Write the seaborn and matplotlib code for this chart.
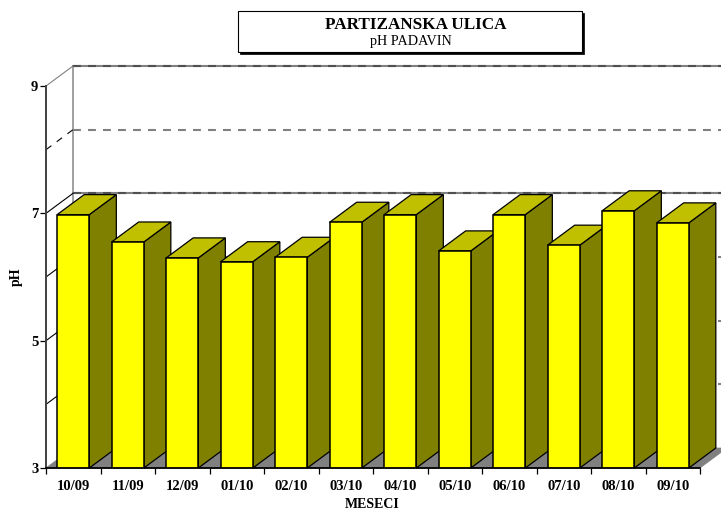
import matplotlib
matplotlib.use("Agg")
import matplotlib.pyplot as plt
from matplotlib.patches import Polygon, Rectangle
import pandas as pd
import seaborn as sns

months = ['10/09', '11/09', '12/09', '01/10', '02/10', '03/10',
          '04/10', '05/10', '06/10', '07/10', '08/10', '09/10']
ph_values = [6.98, 6.55, 6.30, 6.24, 6.31, 6.86, 6.98, 6.41, 6.98, 6.50, 7.04, 6.85]
major_ticks = [3, 5, 7, 9]
wall_levels = [4, 5, 6, 7, 8, 9]

W, H = 721, 512
# depth of the fake 3D box, in data units
DX = 27 / 54.5
DY = 20 / 63.67
BAR_W = 0.59

sns.set_style("white")
plt.rcParams['font.family'] = ['Liberation Serif', 'DejaVu Serif']
plt.rcParams['text.color'] = 'black'
plt.rcParams['xtick.color'] = 'black'
plt.rcParams['ytick.color'] = 'black'

fig = plt.figure(figsize=(W / 100, H / 100), dpi=100)
ax = fig.add_axes([46 / W, 1 - 468 / H, 654 / W, 382 / H])

df = pd.DataFrame({'month': months, 'ph': ph_values})
sns.barplot(data=df, x='month', y='ph', color='#FFFF00', width=BAR_W, saturation=1,
            edgecolor='black', linewidth=1.1, ax=ax)
ax.set_xlim(-0.5, len(months) - 0.5)
ax.set_ylim(3, 9)

left, right = -0.5, len(months) - 0.5

# floor
ax.add_patch(Polygon([(left, 3), (right, 3), (right + DX, 3 + DY), (left + DX, 3 + DY)],
                     closed=True, fc='#808080', ec='#808080', lw=0.5, zorder=1, clip_on=False))

# back wall and side wall lines
ax.plot([left + DX, left + DX], [3 + DY, 9 + DY], color='#909090', lw=1.2, zorder=1, clip_on=False)
for lev in wall_levels:
    y = lev + DY
    if lev in (7, 9):
        ax.plot([left + DX, right + DX], [y, y], color='#808080', lw=1.5, zorder=1, clip_on=False)
        ax.plot([left + DX, right + DX], [y, y], color='#505050', lw=1.5, zorder=1, clip_on=False,
                ls=(0, (3.8, 3.4)))
    else:
        ax.plot([left + DX, right + DX], [y, y], color='#808080', lw=1.5, zorder=1, clip_on=False,
                ls=(0, (3.8, 3.4)))
    if lev == 8:
        side_ls = (0, (6, 6))
        side_col = 'black'
    elif lev == 9:
        side_ls = '-'
        side_col = '#808080'
    else:
        side_ls = '-'
        side_col = 'black'
    ax.plot([left, left + DX], [lev, y], color=side_col, lw=0.8, ls=side_ls, zorder=1, clip_on=False)

# top and side faces, each bar sits over the side of the previous one
for i, (bar, val) in enumerate(zip(ax.patches[:len(months)], ph_values)):
    x0 = i - BAR_W / 2
    x1 = i + BAR_W / 2
    z = 3 + i
    bar.set_zorder(z + 0.5)
    ax.add_patch(Polygon([(x1, 3), (x1 + DX, 3 + DY), (x1 + DX, val + DY), (x1, val)],
                         closed=True, fc='#808000', ec='black', lw=0.9, zorder=z, clip_on=False))
    ax.add_patch(Polygon([(x0, val), (x1, val), (x1 + DX, val + DY), (x0 + DX, val + DY)],
                         closed=True, fc='#C0C000', ec='black', lw=0.9, zorder=z, clip_on=False))

# front axes
sns.despine(ax=ax, top=True, right=True)
ax.spines['left'].set_color('#404040')
ax.spines['left'].set_linewidth(1.4)
ax.spines['left'].set_zorder(30)
ax.spines['bottom'].set_color('black')
ax.spines['bottom'].set_linewidth(1.3)
ax.spines['bottom'].set_zorder(30)

ax.set_yticks(major_ticks)
ax.set_yticklabels([str(t) for t in major_ticks], fontweight='bold', fontsize=10.5)
ax.set_xticks([i - 0.5 for i in range(len(months) + 1)])
ax.set_xticklabels([])
ax.tick_params(axis='both', which='major', length=4, width=0.9, color='black', left=True, bottom=True)
ax.tick_params(axis='y', pad=1.5)
for i, m in enumerate(months):
    ax.annotate(m, xy=(i, 3), xytext=(0, -13), textcoords='offset points', ha='center', va='center',
                fontweight='bold', fontsize=10.5, annotation_clip=False)

ax.set_xlabel('')
ax.set_ylabel('')
fig.text(16 / W, 1 - 277 / H, 'pH', rotation=90, ha='center', va='center', fontweight='bold', fontsize=10)
fig.text(372 / W, 1 - 504 / H, 'MESECI', ha='center', va='center', fontweight='bold', fontsize=10)

# title box with shadow
fig.add_artist(Rectangle((240 / W, 1 - 54 / H), 344 / W, 41 / H, transform=fig.transFigure,
                         fc='black', ec='black', lw=0.5))
fig.add_artist(Rectangle((238 / W, 1 - 52 / H), 344 / W, 41 / H, transform=fig.transFigure,
                         fc='white', ec='black', lw=0.8))
fig.text(416 / W, 1 - 25 / H, 'PARTIZANSKA ULICA', ha='center', va='center', fontweight='bold', fontsize=12.3)
fig.text(411 / W, 1 - 41 / H, 'pH PADAVIN', ha='center', va='center', fontsize=10.2)

fig.savefig('out.png', dpi=100)
plt.close(fig)
